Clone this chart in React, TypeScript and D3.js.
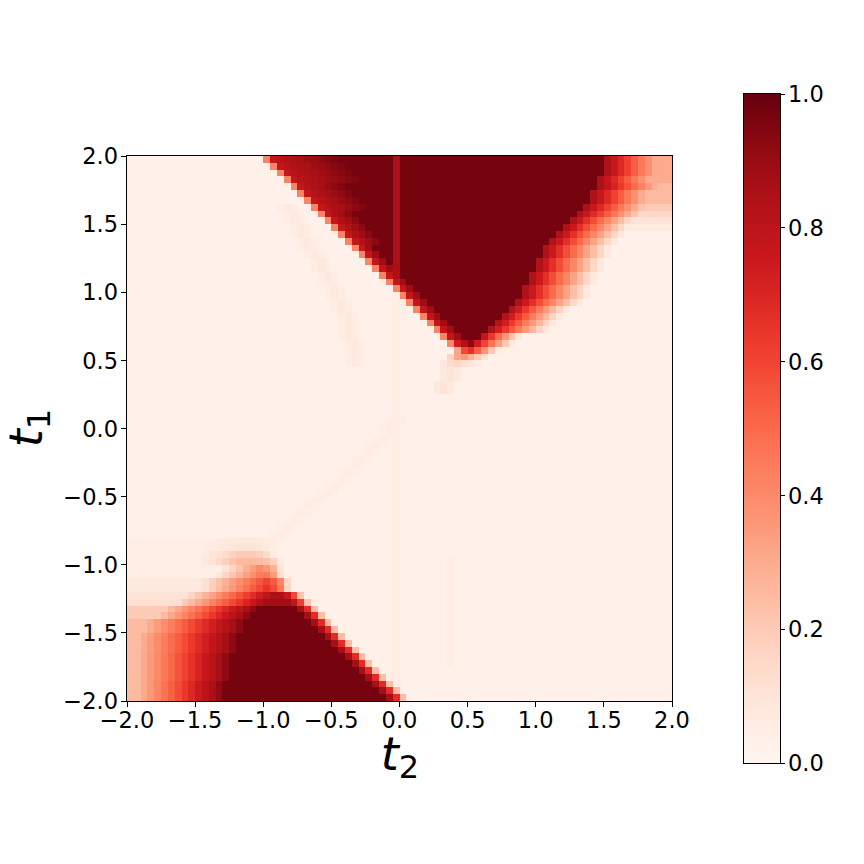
import React, { useMemo } from 'react'
import * as d3 from 'd3'

const N = 80
const REDS = ['#fff5f0', '#fee0d2', '#fcbba1', '#fc9272', '#fb6a4a', '#ef3b2c', '#cb181d', '#a50f15', '#67000d']
const AXIS_TICKS = [-2, -1.5, -1, -0.5, 0, 0.5, 1, 1.5, 2]
const CBAR_TICKS = [0, 0.2, 0.4, 0.6, 0.8, 1]
const BG = 0.025

// upper wedge, one entry per grid row from the top (rows 0..30)
const UP_LEFT = [20, 21, 22, 23, 24, 25, 26, 27, 28, 29, 30, 31, 32, 33, 34, 35, 36, 37, 38, 39, 40, 41, 42, 43, 44, 45, 46, 47, 48, 47, 46]
const UP_END = [69, 69, 69, 68, 68, 67, 67, 66, 65, 64, 63, 62, 61, 60, 60, 59, 59, 58, 58, 57, 57, 56, 55, 54, 53, 52, 51, 50, 50, 49, 48]
const UP_FADE = [11, 11, 11, 11, 12, 11, 11, 11, 11, 10, 10, 10, 10, 10, 10, 10, 10, 10, 10, 10, 10, 10, 9, 9, 9, 9, 6, 6, 4, 4, 4]
const UP_RAMP = [10, 10, 10, 10, 7, 7, 7, 7, 4, 4, 4, 4, 4, 2, 2, 2, 2, 2, 2, 2, 2, 2, 2, 2, 2, 2, 2, 2, 2, 2, 2]
const UP_HALO = [0.3, 0.3, 0.3, 0.3, 0.25, 0.25, 0.25, 0.2, 0.15, 0.1, 0.06, 0, 0, 0, 0, 0, 0, 0, 0, 0, 0, 0, 0, 0, 0, 0, 0, 0, 0, 0, 0]
const UP_PEAK = [1, 1, 1, 1, 1, 1, 1, 1, 1, 1, 1, 1, 1, 1, 1, 1, 1, 1, 1, 1, 1, 1, 1, 1, 1, 1, 1, 0.95, 0.75, 0.4, 0.18]
const LINE_COL = 39
const LINE_ROWS = 20

// lower wedge, rows 56..79
const LOW_FIRST = 56
const LOW_PEAK = [0.08, 0.1, 0.2, 0.25, 0.4, 0.5, 0.6, 0.65, 0.85, 0.88, 0.97, 0.97, 0.97, 0.97, 0.97, 0.97, 0.97, 0.97, 0.97, 0.97, 0.97, 0.97, 0.97, 0.97]
const LOW_START = [16, 16, 16, 16, 19, 20, 20, 20, 21, 20, 19, 18, 17, 17, 16, 16, 16, 15, 15, 15, 15, 14, 14, 14]
const LOW_RIGHT = [20, 20, 20, 21, 21, 21, 22, 22, 24, 25, 26, 27, 28, 29, 30, 31, 32, 33, 34, 35, 36, 37, 38, 39]
const LOW_RAMP = [6, 6, 6, 6, 6, 8, 10, 10, 13, 13, 14, 14, 15, 15, 15, 15, 15, 14, 14, 14, 14, 13, 13, 13]
const LOW_FLOOR = [0.04, 0.04, 0.04, 0.04, 0.04, 0.04, 0.07, 0.07, 0.1, 0.13, 0.2, 0.2, 0.25, 0.25, 0.25, 0.25, 0.25, 0.25, 0.25, 0.25, 0.25, 0.25, 0.25, 0.25]

// faint streaks: [row, col] points and level
const BAND_A = [[7, 23], [14, 27], [20, 30], [24, 32], [30, 33]]
const BAND_B = [[60, 17], [56, 21], [52, 25], [47, 31], [42, 36], [38, 39]]
const BAND_C = [[30, 47], [34, 46]]
const BAND_D = [[20, 39], [79, 39]]
const BAND_E = [[59, 47], [74, 47]]
const BANDS: [number[][], number][] = [[BAND_A, 0.07], [BAND_B, 0.06], [BAND_C, 0.1], [BAND_D, 0.05], [BAND_E, 0.045]]

function buildGrid() {
  const g = Array.from({ length: N }, () => new Array(N).fill(BG))
  const put = (j: number, i: number, v: number) => {
    if (j < 0 || j >= N || i < 0 || i >= N) return
    g[j][i] = Math.max(g[j][i], v)
  }

  UP_LEFT.forEach((left, j) => {
    const end = UP_END[j]
    for (let i = left; i < N; i++) {
      let v
      if (i === left) v = 0.42
      else if (i === left + 1) v = 0.78
      else if (i <= end) v = 0.8 + 0.17 * Math.min(1, (i - left - 1) / UP_RAMP[j])
      else v = Math.max(UP_HALO[j], 0.92 - 0.85 * (i - end) / UP_FADE[j])
      if (i === LINE_COL && j < LINE_ROWS && i > left + 1) v = 0.86
      put(j, i, v * UP_PEAK[j])
    }
  })

  LOW_PEAK.forEach((peak, r) => {
    const j = LOW_FIRST + r
    const start = LOW_START[r], right = LOW_RIGHT[r]
    const floor = LOW_FLOOR[r], ramp = LOW_RAMP[r]
    for (let i = 0; i <= right + 1; i++) {
      let v
      if (i === right + 1) v = 0.25 * peak
      else if (i === right) v = 0.7 * peak
      else if (i === right - 1) v = 0.9 * peak
      else if (i >= start) v = peak
      else v = Math.max(floor, peak - (start - i) * (peak - floor) / ramp)
      put(j, i, v)
    }
  })

  BANDS.forEach(([pts, level]) => {
    for (let k = 1; k < pts.length; k++) {
      const [r0, c0] = pts[k - 1], [r1, c1] = pts[k]
      const lo = Math.min(r0, r1), hi = Math.max(r0, r1)
      for (let j = lo; j <= hi; j++) {
        const c = Math.round(hi === lo ? c0 : c0 + (c1 - c0) * (j - r0) / (r1 - r0))
        put(j, c, level)
        put(j, c - 1, level * 0.7)
        put(j, c + 1, level * 0.7)
      }
    }
  })
  return g
}

const FONT = 'DejaVu Sans, Verdana, sans-serif'

export default function App() {
  const x = d3.scaleLinear().domain([-2, 2]).range([127, 672])
  const y = d3.scaleLinear().domain([-2, 2]).range([701, 156])
  const color = d3.scaleLinear<string>()
    .domain(REDS.map((_, k) => k / (REDS.length - 1)))
    .range(REDS)
    .interpolate(d3.interpolateRgb)
    .clamp(true)
  const cbar = d3.scaleLinear().domain([0, 1]).range([763, 94])
  const fmt = d3.format('.1f')
  const grid = useMemo(buildGrid, [])
  const step = 4 / N
  const cw = x(step) - x(0)

  return (
    <svg width={864} height={864} style={{ display: 'block', position: 'absolute', left: 0, top: 0 }} fontFamily={FONT}>
      <rect width={864} height={864} fill="#fff" />
      <g shapeRendering="crispEdges">
        {grid.map((row, j) => row.map((v, i) => (
          <rect key={j * N + i} x={x(-2 + i * step)} y={y(2 - j * step)} width={cw + 0.3} height={cw + 0.3} fill={color(v)} />
        )))}
      </g>
      <g shapeRendering="crispEdges" stroke="#000">
        <rect x={126.5} y={155.5} width={546} height={546} fill="none" strokeWidth={1} />
        {AXIS_TICKS.map(t => (
          <line key={'xt' + t} x1={x(t)} x2={x(t)} y1={701} y2={707} />
        ))}
        {AXIS_TICKS.map(t => (
          <line key={'yt' + t} x1={121} x2={127} y1={y(t)} y2={y(t)} />
        ))}
      </g>
      {AXIS_TICKS.map(t => (
        <text key={'x' + t} x={x(t)} y={728} fontSize={22.5} textAnchor="middle">{fmt(t)}</text>
      ))}
      {AXIS_TICKS.map(t => (
        <text key={'y' + t} x={118} y={y(t) + 8.2} fontSize={22.5} textAnchor="end">{fmt(t)}</text>
      ))}
      <text x={400} y={770} fontSize={46} textAnchor="middle">
        <tspan fontStyle="italic">t</tspan><tspan fontSize={32} dy={8}>2</tspan>
      </text>
      <text x={42} y={428} fontSize={46} textAnchor="middle" transform="rotate(-90 42 428)">
        <tspan fontStyle="italic">t</tspan><tspan fontSize={32} dy={8}>1</tspan>
      </text>
      <defs>
        <linearGradient id="cbar" x1="0" y1="1" x2="0" y2="0">
          {d3.range(0, 1.0001, 0.05).map(v => (
            <stop key={v} offset={v} stopColor={color(v)} />
          ))}
        </linearGradient>
      </defs>
      <rect x={744} y={94} width={36} height={669} fill="url(#cbar)" />
      <g shapeRendering="crispEdges" stroke="#000">
        <rect x={743.5} y={93.5} width={37} height={670} fill="none" />
        {CBAR_TICKS.map(t => (
          <line key={'ct' + t} x1={780} x2={785} y1={cbar(t)} y2={cbar(t)} />
        ))}
      </g>
      {CBAR_TICKS.map(t => (
        <text key={'c' + t} x={788} y={cbar(t) + 8.2} fontSize={22.5}>{fmt(t)}</text>
      ))}
    </svg>
  )
}
